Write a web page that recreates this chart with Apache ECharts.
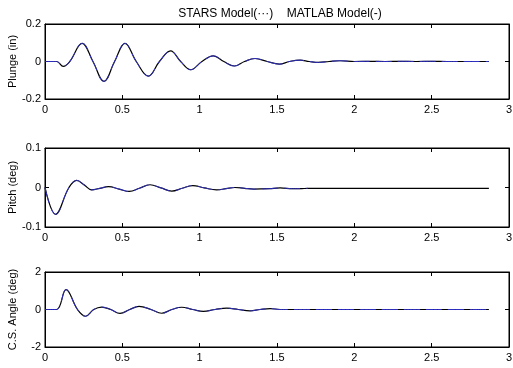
<!DOCTYPE html>
<html>
<head>
<meta charset="utf-8">
<script src="https://cdn.jsdelivr.net/npm/echarts@6/dist/echarts.min.js"></script>
<style>
  html, body { margin: 0; padding: 0; background: #fff; }
  #chart { width: 513px; height: 368px; }
</style>
</head>
<body>
<div id="chart"></div>
<script>
// Time histories (s) of the three response channels
const tPlunge = [0, 0.075, 0.118, 0.16, 0.24, 0.31, 0.381, 0.45, 0.517, 0.59, 0.668, 0.74, 0.812, 0.877, 0.942, 1.015, 1.088, 1.156, 1.224, 1.29, 1.358, 1.437, 1.515, 1.58, 1.649, 1.708, 1.767, 1.837, 1.907, 2.0, 2.1, 2.2, 2.3, 2.4, 2.5, 2.6, 2.7, 2.87];
const vPlunge = [0, 0, -0.026, 0, 0.097, 0, -0.106, 0, 0.097, 0, -0.078, 0, 0.057, 0, -0.044, 0, 0.030, 0, -0.024, 0, 0.016, 0, -0.014, 0, 0.007, 0, -0.005, 0, 0.004, 0, 0.001, 0, 0.001, 0, 0.001, 0, 0, 0];

const tPitch = [0, 0.068, 0.155, 0.205, 0.255, 0.302, 0.355, 0.41, 0.48, 0.545, 0.61, 0.679, 0.75, 0.819, 0.887, 0.955, 1.03, 1.11, 1.17, 1.228, 1.29, 1.35, 1.45, 1.52, 1.6, 1.65, 1.7, 1.8, 2.0, 2.2, 2.4, 2.6, 2.87];
const vPitch = [0, -0.068, 0, 0.018, 0.006, -0.006, -0.002, 0.002, -0.004, -0.010, -0.002, 0.007, -0.001, -0.009, -0.002, 0.005, -0.001, -0.006, -0.003, 0, -0.002, -0.004, -0.003, -0.001, -0.003, -0.003, -0.002, -0.002, -0.002, -0.002, -0.002, -0.002, -0.002];
const starsPitchEnd = 1.7;

const tAngle = [0, 0.075, 0.136, 0.21, 0.262, 0.315, 0.366, 0.425, 0.485, 0.548, 0.608, 0.685, 0.754, 0.82, 0.884, 0.955, 1.024, 1.1, 1.175, 1.25, 1.325, 1.39, 1.455, 1.52, 1.6, 1.8, 2.0, 2.2, 2.4, 2.6, 2.87];
const vAngle = [0, 0, 1.06, 0, -0.36, 0, 0.13, 0, -0.21, 0, 0.17, 0, -0.2, 0, 0.12, 0, -0.1, 0, 0.07, 0, -0.07, 0, 0.05, 0, 0, 0, 0, 0, 0, 0, 0];

const xMin = 0, xMax = 3, xStep = 0.5;
const panels = [
  { name: 'Plunge (in)', t: tPlunge, v: vPlunge, min: -0.2, max: 0.2, step: 0.2, starsEnd: Infinity },
  { name: 'Pitch (deg)', t: tPitch, v: vPitch, min: -0.1, max: 0.1, step: 0.1, starsEnd: starsPitchEnd },
  { name: 'C.S. Angle (deg)', t: tAngle, v: vAngle, min: -2, max: 2, step: 2, starsEnd: Infinity }
];

const FONT = '"Liberation Sans", Arial, Helvetica, sans-serif';
const boxes = [
  { top: 24, height: 75 },
  { top: 148, height: 79 },
  { top: 272, height: 75 }
];

const grid = [], xAxis = [], yAxis = [], series = [];
panels.forEach((p, i) => {
  grid.push({ left: 45, right: 4, top: boxes[i].top, height: boxes[i].height,
              containLabel: false, outerBoundsMode: 'none',
              show: true, borderColor: '#000', borderWidth: 1, backgroundColor: 'transparent' });
  const tickStyle = { show: true, inside: true, length: 4, lineStyle: { color: '#000', width: 1 } };
  const lineStyle = { show: true, onZero: false, lineStyle: { color: '#000', width: 1 } };
  xAxis.push({
    type: 'value', gridIndex: i, min: xMin, max: xMax, interval: xStep, position: 'bottom',
    axisLine: lineStyle, axisTick: tickStyle, splitLine: { show: false },
    axisLabel: { color: '#000', fontSize: 11, fontFamily: FONT, margin: 5 }
  });
  xAxis.push({
    type: 'value', gridIndex: i, min: xMin, max: xMax, interval: xStep, position: 'top',
    axisLine: lineStyle, axisTick: tickStyle, splitLine: { show: false }, axisLabel: { show: false }
  });
  yAxis.push({
    type: 'value', gridIndex: i, min: p.min, max: p.max, interval: p.step, position: 'left',
    name: p.name, nameLocation: 'middle', nameGap: 27, nameMoveOverlap: false,
    nameTextStyle: { color: '#000', fontSize: 11, fontFamily: FONT },
    axisLine: lineStyle, axisTick: tickStyle, splitLine: { show: false },
    axisLabel: { color: '#000', fontSize: 11, fontFamily: FONT, margin: 4 }
  });
  yAxis.push({
    type: 'value', gridIndex: i, min: p.min, max: p.max, interval: p.step, position: 'right',
    axisLine: lineStyle, axisTick: tickStyle, splitLine: { show: false }, axisLabel: { show: false }
  });

  const matlab = p.t.map((t, k) => [t, p.v[k]]);
  const stars = matlab.filter(d => d[0] <= p.starsEnd);
  // MATLAB model: solid black
  series.push({
    type: 'line', xAxisIndex: 2 * i, yAxisIndex: 2 * i, data: matlab,
    smooth: 0.4, symbol: 'none', animation: false,
    lineStyle: { color: '#000', width: 1.2 }
  });
  // STARS model: dotted blue
  series.push({
    type: 'line', xAxisIndex: 2 * i, yAxisIndex: 2 * i, data: stars,
    smooth: 0.4, symbol: 'none', animation: false,
    lineStyle: { color: '#3434d4', width: 1, type: [16, 6], opacity: 0.9 }
  });
});

const chart = echarts.init(document.getElementById('chart'), null, { renderer: 'canvas' });
chart.setOption({
  backgroundColor: '#fff',
  animation: false,
  title: {
    text: 'STARS Model(···)    MATLAB Model(-)',
    left: 275, top: 3, textAlign: 'center',
    textStyle: { color: '#000', fontSize: 12, fontWeight: 'normal', fontFamily: FONT }
  },
  grid, xAxis, yAxis, series
});
</script>
</body>
</html>
